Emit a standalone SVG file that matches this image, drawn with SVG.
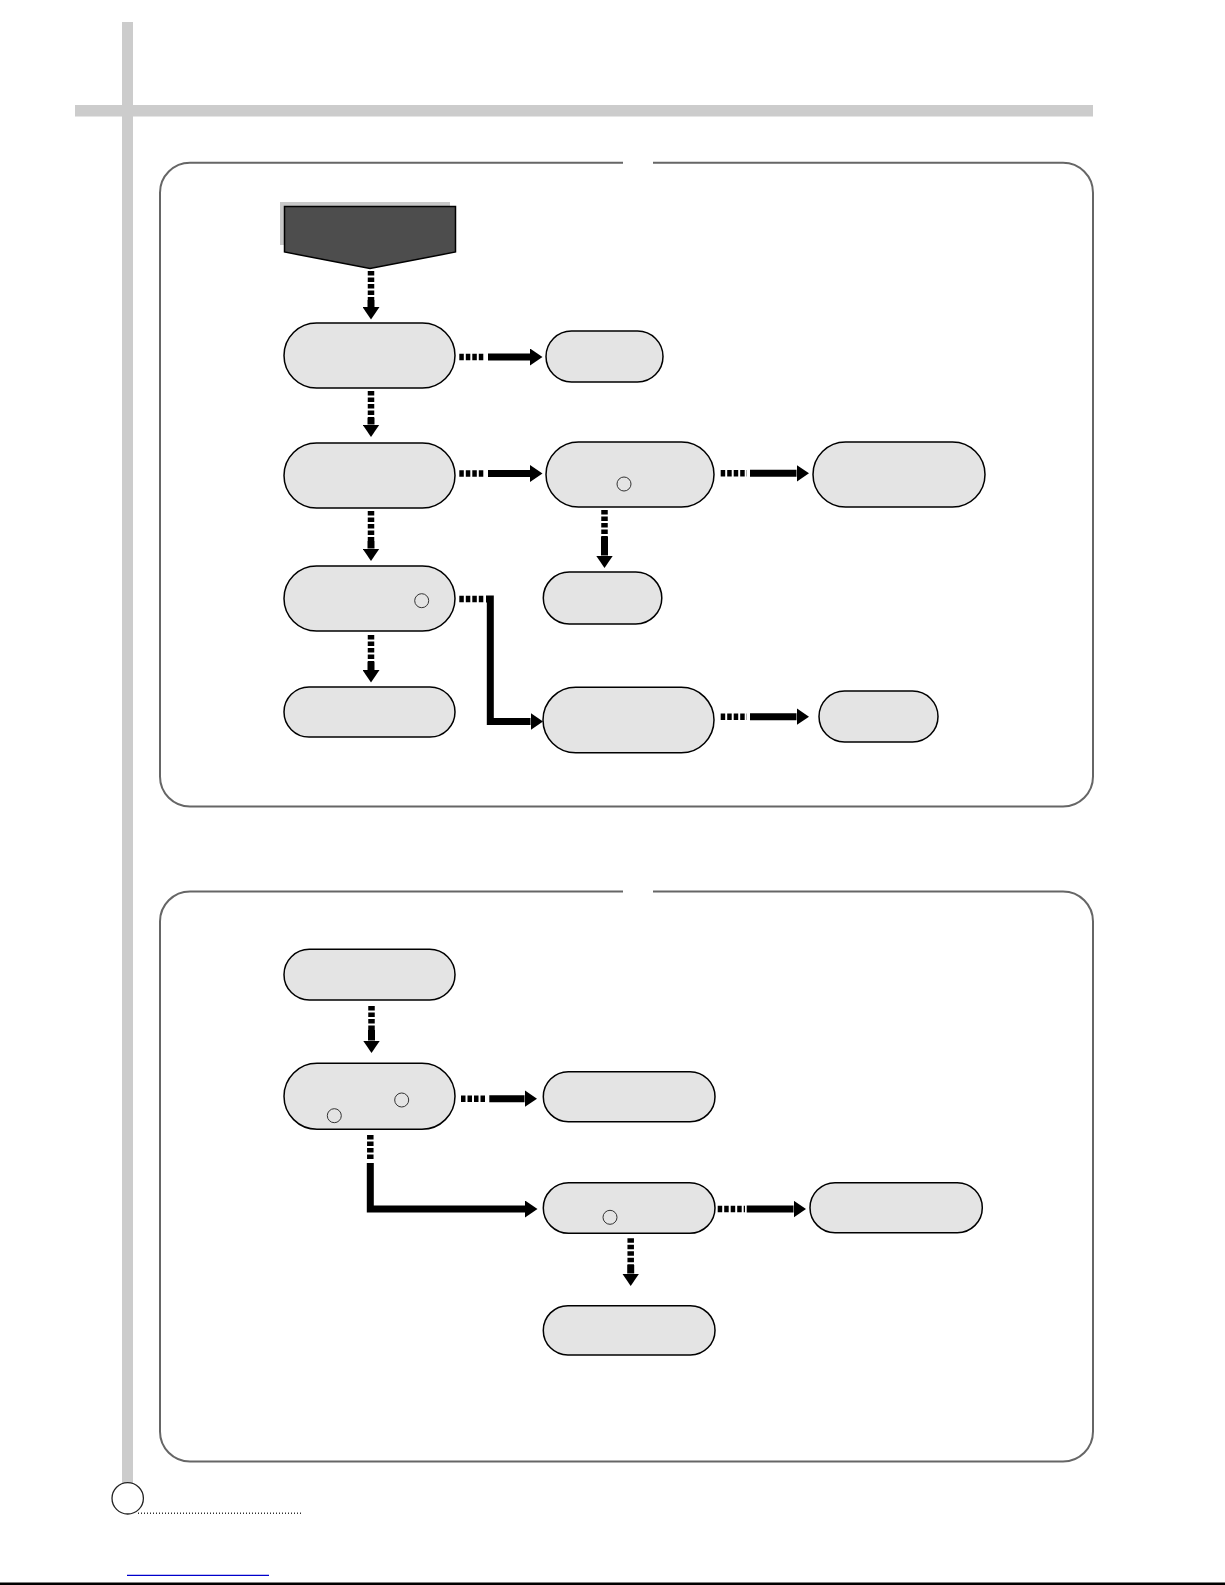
<svg xmlns="http://www.w3.org/2000/svg" width="1225" height="1585" viewBox="0 0 1225 1585">
<style>
.bar{fill:#cccccc}
.panel{fill:none;stroke:#666;stroke-width:2}
.node{fill:#e4e4e4;stroke:#000;stroke-width:1.5}
.dot{fill:none;stroke:#333;stroke-width:1}
.dash{fill:none;stroke:#000;stroke-width:6.5;stroke-dasharray:4.5 2}
.solid{fill:none;stroke:#000;stroke-width:7;stroke-linejoin:miter}
</style>
<defs>
<marker id="head" markerUnits="userSpaceOnUse" viewBox="0 -8.5 12.5 17" markerWidth="12.5" markerHeight="17" refX="0" refY="0" orient="auto">
<path d="M0,-8.5 L12.5,0 L0,8.5 Z" fill="#000"/>
</marker>
</defs>
<rect width="1225" height="1585" fill="#fff"/>
<g id="page">
<rect class="bar" x="122" y="22" width="11" height="1461"/>
<rect class="bar" x="75" y="105" width="1018" height="11.5"/>
<path class="panel" d="M653,162.7 H1063 A30,30 0 0 1 1093,192.7 V776.6 A30,30 0 0 1 1063,806.6 H190 A30,30 0 0 1 160,776.6 V192.7 A30,30 0 0 1 190,162.7 H623"/>
<path class="panel" d="M653,891.5 H1063 A30,30 0 0 1 1093,921.5 V1431.5 A30,30 0 0 1 1063,1461.5 H190 A30,30 0 0 1 160,1431.5 V921.5 A30,30 0 0 1 190,891.5 H623"/>
<circle cx="127.7" cy="1498.3" r="15.7" fill="#fff" stroke="#222" stroke-width="1.3"/>
<line x1="138" y1="1513.3" x2="303" y2="1513.3" stroke="#333" stroke-width="1.5" stroke-dasharray="1 2"/>
<line x1="127" y1="1575.3" x2="269" y2="1575.3" stroke="#0000cc" stroke-width="1.2"/>
<rect x="0" y="1582.5" width="1225" height="2.5" fill="#000"/>
</g>
<g id="start">
<rect x="280" y="202" width="170" height="43" fill="#c8c8c8"/>
<polygon points="284.5,206.5 455.5,206.5 455.5,252 370,268.5 284.5,252" fill="#4d4d4d" stroke="#000" stroke-width="1.5"/>
</g>
<g id="connectors">
<path class="dash" d="M371,271 V300"/><path class="solid" d="M371,300 V307" marker-end="url(#head)"/>
<path class="dash" d="M371,391 V418"/><path class="solid" d="M371,418 V424.5" marker-end="url(#head)"/>
<path class="dash" d="M371,511 V541"/><path class="solid" d="M371,541 V548.5" marker-end="url(#head)"/>
<path class="dash" d="M371,635 V662"/><path class="solid" d="M371,662 V670" marker-end="url(#head)"/>
<path class="dash" d="M459.3,357 H485"/><path class="solid" d="M488,357 H530" marker-end="url(#head)"/>
<path class="dash" d="M459.3,473.5 H485"/><path class="solid" d="M488,473.5 H530" marker-end="url(#head)"/>
<path class="dash" d="M720.7,473.3 H747"/><path class="solid" d="M750,473.3 H796.5" marker-end="url(#head)"/>
<path class="dash" d="M604.5,510 V537"/><path class="solid" d="M604.5,537 V555.5" marker-end="url(#head)"/>
<path class="dash" d="M459.3,599 H485"/><path class="solid" d="M486,599 H490.3 V721.5 H530.5" marker-end="url(#head)"/>
<path class="dash" d="M720.7,716.7 H747"/><path class="solid" d="M750,716.7 H796.5" marker-end="url(#head)"/>
<path class="dash" d="M371.5,1006 V1030"/><path class="solid" d="M371.5,1030 V1040.5" marker-end="url(#head)"/>
<path class="dash" d="M461,1098.7 H487"/><path class="solid" d="M489.3,1098.7 H524.5" marker-end="url(#head)"/>
<path class="dash" d="M370.3,1135 V1161"/><path class="solid" d="M370.3,1163 V1209 H525" marker-end="url(#head)"/>
<path class="dash" d="M717.7,1209 H745"/><path class="solid" d="M746.7,1209 H793.5" marker-end="url(#head)"/>
<path class="dash" d="M630.7,1238.3 V1265"/><path class="solid" d="M630.7,1265 V1273.5" marker-end="url(#head)"/>
</g>
<g id="n1"><rect class="node" x="284" y="323" width="171" height="65" rx="32.5"/></g>
<g id="n2"><rect class="node" x="546" y="331" width="117" height="51" rx="25.5"/></g>
<g id="n3"><rect class="node" x="284" y="443" width="171" height="65" rx="32.5"/></g>
<g id="n4"><rect class="node" x="546" y="442" width="168" height="65" rx="32.5"/><circle class="dot" cx="624" cy="484" r="7"/></g>
<g id="n5"><rect class="node" x="813" y="442" width="172" height="65" rx="32.5"/></g>
<g id="n6"><rect class="node" x="284" y="566" width="171" height="65" rx="32.5"/><circle class="dot" cx="421.7" cy="600.7" r="7"/></g>
<g id="n7"><rect class="node" x="543.3" y="572" width="118.5" height="52" rx="26"/></g>
<g id="n8"><rect class="node" x="284" y="687" width="171" height="50" rx="25"/></g>
<g id="n9"><rect class="node" x="543" y="687.3" width="171" height="65.5" rx="32.7"/></g>
<g id="n10"><rect class="node" x="819" y="691" width="119" height="51" rx="25.5"/></g>
<g id="m1"><rect class="node" x="284" y="949.3" width="171" height="50.7" rx="25.3"/></g>
<g id="m2"><rect class="node" x="284" y="1063.3" width="171" height="66" rx="33"/><circle class="dot" cx="401.7" cy="1100" r="7"/><circle class="dot" cx="334.3" cy="1115.7" r="7"/></g>
<g id="m3"><rect class="node" x="543.3" y="1071.7" width="171.7" height="50" rx="25"/></g>
<g id="m4"><rect class="node" x="543.3" y="1182.7" width="171.7" height="50.6" rx="25.3"/><circle class="dot" cx="610" cy="1217.3" r="7"/></g>
<g id="m5"><rect class="node" x="543.3" y="1305.7" width="171.7" height="49.3" rx="24.6"/></g>
<g id="m6"><rect class="node" x="810" y="1182.7" width="172.3" height="50" rx="25"/></g>
</svg>
